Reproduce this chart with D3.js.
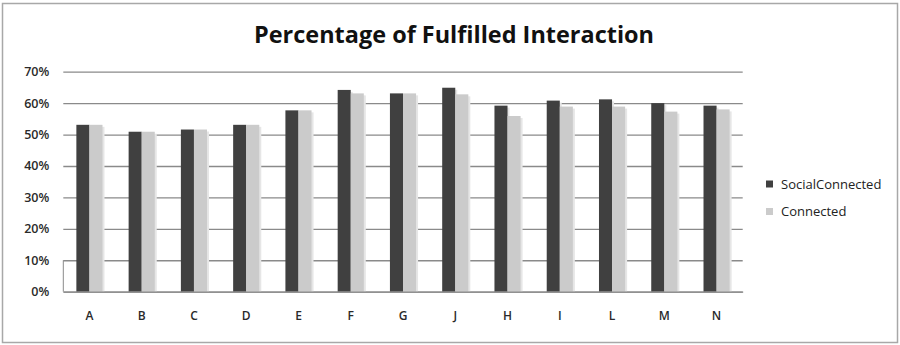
<!DOCTYPE html>
<html><head><meta charset="utf-8">
<script src="https://cdn.jsdelivr.net/npm/d3@7"></script>
<style>
html,body{margin:0;padding:0;background:#fff;}
svg{display:block;}
</style></head>
<body>
<svg id="chart" width="900" height="345"></svg>
<script>
const categories = ["A","B","C","D","E","F","G","J","H","I","L","M","N"];
const socialConnected = [53.1,50.9,51.6,53.1,57.7,64.2,63.1,64.9,59.2,60.8,61.2,60.0,59.2];
const connected = [53.1,50.9,51.6,53.1,57.7,63.1,63.1,62.8,55.9,58.9,58.9,57.3,58.0];
const seriesNames = ["SocialConnected","Connected"];
const seriesColors = ["#404040","#cbcbcb"];
const yTicks = [0,10,20,30,40,50,60,70];
const title = "Percentage of Fulfilled Interaction";

const svg = d3.select("#chart");
const W = 900, H = 345;
const m = {left:63.3, right:900-742.7, top:71.7, bottom:345-291.7};
const font = "'Open Sans',sans-serif";

svg.append("rect").attr("x",2.5).attr("y",3.5).attr("width",W-5).attr("height",H-6)
  .attr("fill","#fff").attr("stroke","#a8a8a8").attr("stroke-width",1.5);

const x = d3.scaleBand().domain(categories).range([m.left, W-m.right]).paddingInner(0.5).paddingOuter(0.25);
const y = d3.scaleLinear().domain([0,70]).range([H-m.bottom, m.top]);
const x1 = d3.scaleBand().domain(seriesNames).range([0, x.bandwidth()]);

// gridlines
const gy = svg.append("g").attr("transform",`translate(${m.left},0)`)
  .call(d3.axisLeft(y).tickValues(yTicks).tickSize(-(W-m.left-m.right)).tickFormat(d=>d+"%").tickPadding(14));
gy.select(".domain").attr("stroke","#8a8a8a").attr("d",`M0,${y(10)}V${y(0)}`);
gy.selectAll(".tick line").attr("stroke","#8a8a8a").attr("stroke-width",1.3);
gy.selectAll(".tick text").attr("fill","#2a2a2a").style("font-family",font).style("font-size","12.5px").style("font-weight","600");

// bars
const data = categories.map((c,i)=>({c, vals:[socialConnected[i], connected[i]]}));
const groups = svg.append("g").selectAll("g").data(data).join("g")
  .attr("transform",d=>`translate(${x(d.c)},0)`);
groups.selectAll("rect.sh").data(d=>d.vals.map((v,k)=>({v,k}))).join("rect").attr("class","sh")
  .attr("x",d=>x1(seriesNames[d.k])+2).attr("y",d=>y(d.v)+2)
  .attr("width",x1.bandwidth()).attr("height",d=>y(0)-y(d.v)-2)
  .attr("fill","#e6e6e6");
groups.selectAll("rect.bar").data(d=>d.vals.map((v,k)=>({v,k}))).join("rect").attr("class","bar")
  .attr("x",d=>x1(seriesNames[d.k])).attr("y",d=>y(d.v))
  .attr("width",x1.bandwidth()).attr("height",d=>y(0)-y(d.v))
  .attr("fill",d=>seriesColors[d.k]);

// x axis
const gx = svg.append("g").attr("transform",`translate(0,${y(0)})`)
  .call(d3.axisBottom(x).tickSize(0).tickPadding(20));
gx.select(".domain").attr("stroke","#8a8a8a").attr("stroke-width",1.3);
gx.selectAll(".tick text").attr("fill","#2a2a2a").style("font-family",font).style("font-size","12px").style("font-weight","600");

// title
svg.append("text").attr("x",454).attr("y",43).attr("text-anchor","middle")
  .attr("textLength",400).attr("lengthAdjust","spacingAndGlyphs")
  .style("font-family",font).style("font-weight","bold").style("font-size","23px")
  .attr("fill","#111").text(title);

// legend
const lg = svg.append("g");
seriesNames.forEach((s,i)=>{
  const yy = 184 + i*27.5;
  lg.append("rect").attr("x",766).attr("y",yy-3.5).attr("width",7).attr("height",7).attr("fill",seriesColors[i]);
  lg.append("text").attr("x",781).attr("y",yy+4.5).attr("fill","#222")
    .style("font-family",font).style("font-size","13px").style("font-weight","500").text(s);
});
</script>
</body></html>
